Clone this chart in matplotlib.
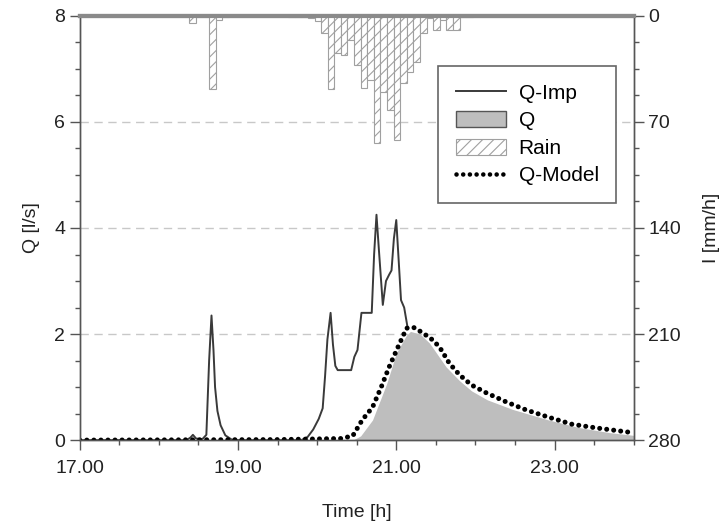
import numpy as np
import matplotlib
matplotlib.use('Agg')
import matplotlib.pyplot as plt
from matplotlib.patches import Patch
from matplotlib.lines import Line2D
from matplotlib.ticker import MultipleLocator, FixedLocator

plt.rcParams['font.family'] = ['Liberation Sans', 'DejaVu Sans']
plt.rcParams['hatch.color'] = '#a0a0a0'
plt.rcParams['hatch.linewidth'] = 0.8

# Q-Imp (solid line)
t_imp = [17.0, 18.35, 18.40, 18.43, 18.47, 18.55, 18.60, 18.635, 18.665, 18.69,
         18.71, 18.74, 18.78, 18.84, 18.92, 19.0, 19.80, 19.88, 19.95, 20.02,
         20.07, 20.10, 20.13, 20.17, 20.20, 20.23, 20.26, 20.43, 20.47, 20.51,
         20.56, 20.69, 20.72, 20.75, 20.78, 20.83, 20.87, 20.91, 20.94, 20.97,
         21.00, 21.03, 21.06, 21.10, 21.14]
q_imp = [0, 0, 0.05, 0.1, 0.03, 0.02, 0.1, 1.5, 2.35, 1.7,
         1.0, 0.55, 0.28, 0.09, 0.01, 0, 0, 0.06, 0.2, 0.4,
         0.6, 1.2, 1.9, 2.4, 1.8, 1.4, 1.32, 1.32, 1.57, 1.7,
         2.4, 2.4, 3.5, 4.25, 3.6, 2.55, 3.0, 3.12, 3.2, 3.8,
         4.15, 3.4, 2.64, 2.5, 2.15]

# Q-Model (dotted)
t_mod = [17.0, 19.5, 20.3, 20.45, 20.57, 20.70, 20.81, 20.91, 21.02, 21.13,
         21.20, 21.25, 21.33, 21.42, 21.50, 21.57, 21.67, 21.80, 21.95, 22.14,
         22.39, 22.64, 22.93, 23.22, 23.53, 23.94, 24.0]
q_mod = [0, 0.01, 0.03, 0.08, 0.38, 0.62, 1.0, 1.38, 1.75, 2.11,
         2.13, 2.11, 2.02, 1.94, 1.83, 1.70, 1.45, 1.23, 1.04, 0.89,
         0.72, 0.57, 0.43, 0.30, 0.23, 0.15, 0.14]

# Q observed (grey fill)
t_obs = [20.45, 20.55, 20.70, 20.88, 21.00, 21.13, 21.18, 21.30, 21.42, 21.63,
         21.80, 21.95, 22.15, 22.47, 22.90, 23.30, 23.70, 24.0]
q_obs = [0, 0.08, 0.38, 1.07, 1.64, 1.98, 2.05, 2.0, 1.83, 1.38,
         1.12, 0.93, 0.76, 0.58, 0.39, 0.24, 0.14, 0.09]

# rain, 5 min bars (start time, intensity mm/h)
rain_t = [18.383, 18.633, 18.717, 18.800, 19.633, 19.717, 19.800, 19.883,
          19.967, 20.050, 20.133, 20.217, 20.300, 20.383, 20.467, 20.550,
          20.633, 20.717, 20.800, 20.883, 20.967, 21.050, 21.133, 21.217,
          21.300, 21.383, 21.467, 21.550, 21.633, 21.717, 21.800, 21.883]
rain_i = [4.8, 48.4, 2.6, 0.9, 0.5, 0.8, 1.0, 1.2,
          3.7, 11.4, 48.4, 24.7, 25.8, 15.9, 32.4, 47.8,
          42.3, 84.1, 50.0, 62.0, 81.9, 44.5, 36.8, 30.2,
          11.4, 1.5, 9.2, 2.6, 9.2, 9.2, 0.8, 0.5]

fs = 14
fig = plt.figure(figsize=(7.25, 5.29), dpi=100)
ax1 = fig.add_axes([0.110, 0.168, 0.764, 0.802])
ax2 = ax1.twinx()

# grid
for g in [2, 4, 6]:
    ax1.axhline(g, color='#c8c8c8', lw=1, ls=(0, (6, 4)), zorder=0)

ax1.fill_between(t_obs, q_obs, 0, color='#bebebe', lw=0, zorder=1)
ax1.plot(t_imp, q_imp, color='#3a3a3a', lw=1.4, zorder=2)
ax1.plot(t_mod, q_mod, color='black', lw=3.6, ls=(0, (0.01, 1.4)),
         dash_capstyle='round', zorder=3)

ax2.bar(rain_t, rain_i, width=1 / 12, align='edge', color='white',
        edgecolor='#a0a0a0', hatch='///', lw=0.8, zorder=2)

ax1.set_xlim(17, 24)
ax1.set_ylim(0, 8)
ax2.set_ylim(280, 0)

ax1.xaxis.set_major_locator(FixedLocator([17, 19, 21, 23]))
ax1.xaxis.set_minor_locator(MultipleLocator(0.5))
ax1.set_xticklabels(['17.00', '19.00', '21.00', '23.00'])
ax1.yaxis.set_major_locator(MultipleLocator(2))
ax1.yaxis.set_minor_locator(MultipleLocator(0.5))
ax2.yaxis.set_major_locator(MultipleLocator(70))
ax2.yaxis.set_minor_locator(MultipleLocator(17.5))

for ax in (ax1, ax2):
    ax.tick_params(which='major', length=7, width=1, color='#555555',
                   labelsize=fs, labelcolor='#222222', direction='out')
    ax.tick_params(which='minor', length=3.5, width=1, color='#555555',
                   direction='out')
    for s in ax.spines.values():
        s.set_color('#555555')
        s.set_linewidth(1)
    ax.spines['top'].set_color('#8a8a8a')
    ax.spines['top'].set_linewidth(3)

ax1.tick_params(axis='x', which='both', top=False)
ax1.tick_params(axis='x', which='major', pad=7)

ax1.set_xlabel('Time [h]', fontsize=fs, color='#222222', labelpad=20)
ax1.set_ylabel('Q [l/s]', fontsize=fs, color='#222222', labelpad=10)
ax2.set_ylabel('I [mm/h]', fontsize=fs, color='#222222', labelpad=16)

handles = [
    Line2D([], [], color='#3a3a3a', lw=1.4),
    Patch(facecolor='#bebebe', edgecolor='#555555', lw=1),
    Patch(facecolor='white', edgecolor='#a0a0a0', hatch='///', lw=0.8),
    Line2D([], [], color='black', lw=3.3, ls=(0, (0.01, 1.45)),
           dash_capstyle='round'),
]
leg = ax2.legend(handles, ['Q-Imp', 'Q', 'Rain', 'Q-Model'],
                 loc='upper right', bbox_to_anchor=(0.969, 0.882),
                 borderaxespad=0, fontsize=15, fancybox=False,
                 framealpha=1, edgecolor='#666666', handlelength=2.4,
                 handleheight=0.8, labelspacing=0.4, borderpad=0.85,
                 handletextpad=0.6)
leg.get_frame().set_linewidth(1.2)
leg.set_zorder(10)

fig.savefig('out.png', dpi=100, facecolor='white')
